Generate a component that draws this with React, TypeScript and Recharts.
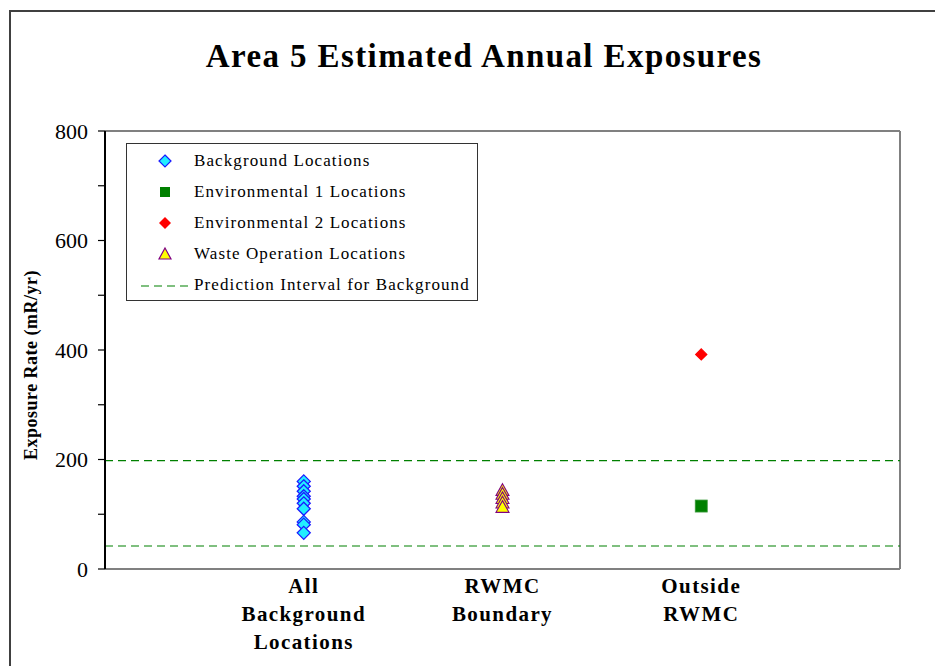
import { ScatterChart, Scatter, XAxis, YAxis, ReferenceLine } from 'recharts';

// categories along the x axis (multi-line labels)
const categories = [
  ['All', 'Background', 'Locations'],
  ['RWMC', 'Boundary'],
  ['Outside', 'RWMC'],
];

// exposure rates (mR/yr)
const backgroundValues = [160, 151, 142, 133, 128, 120, 110, 86, 81, 66];
const environmental1Values = [115];
const environmental2Values = [392];
const wasteValues = [144, 137, 129, 121, 113];
const predictionInterval = [42, 198];

const yTicks = [0, 100, 200, 300, 400, 500, 600, 700, 800];
const labeledTicks = [0, 200, 400, 600, 800];

const toPoints = (category: number, values: number[]) =>
  values.map((v) => ({ x: category + 1, y: v }));

const serif = '"Liberation Serif", "DejaVu Serif", serif';

const diamond = (fill: string, stroke: string, r: number) => (props: any) => {
  const { cx, cy } = props;
  return (
    <polygon
      points={`${cx},${cy - r} ${cx + r},${cy} ${cx},${cy + r} ${cx - r},${cy}`}
      fill={fill}
      stroke={stroke}
      strokeWidth={1.3}
    />
  );
};

const square = (fill: string, r: number) => (props: any) => {
  const { cx, cy } = props;
  return <rect x={cx - r} y={cy - r} width={r * 2} height={r * 2} fill={fill} stroke="#3a9a3a" strokeWidth={0.8} />;
};

const triangle = (fill: string, stroke: string, r: number) => (props: any) => {
  const { cx, cy } = props;
  return (
    <polygon
      points={`${cx},${cy - r} ${cx + r},${cy + r * 0.8} ${cx - r},${cy + r * 0.8}`}
      fill={fill}
      stroke={stroke}
      strokeWidth={1.1}
    />
  );
};

const CategoryTick = (props: any) => {
  const { x, y, payload } = props;
  const lines = categories[payload.value - 1] || [];
  return (
    <text
      x={x}
      y={y}
      textAnchor="middle"
      fontFamily={serif}
      fontWeight="bold"
      fontSize={21}
      letterSpacing={1.4}
      fill="#000"
    >
      {lines.map((line, i) => (
        <tspan key={i} x={x} dy={i === 0 ? 16 : 28}>
          {line}
        </tspan>
      ))}
    </text>
  );
};

const YLabel = () => (
  <text
    x={25}
    y={357}
    transform="rotate(-90 25 357)"
    textAnchor="middle"
    dominantBaseline="middle"
    fontFamily={serif}
    fontWeight="bold"
    fontSize={18}
    letterSpacing={0.5}
    fill="#000"
  >
    Exposure Rate (mR/yr)
  </text>
);

const legendItems = [
  { label: 'Background Locations', icon: 'bg' },
  { label: 'Environmental 1 Locations', icon: 'e1' },
  { label: 'Environmental 2 Locations', icon: 'e2' },
  { label: 'Waste Operation Locations', icon: 'wo' },
  { label: 'Prediction Interval for Background', icon: 'pi' },
];

const LegendIcon = ({ kind }: { kind: string }) => (
  <svg width={65} height={20} style={{ display: 'block' }}>
    {kind === 'bg' && <polygon points="38,4 44,10 38,16 32,10" fill="#22eeff" stroke="#1a1aff" strokeWidth={1.2} />}
    {kind === 'e1' && <rect x={33} y={5} width={10} height={10} fill="#008000" />}
    {kind === 'e2' && <polygon points="38,4 44,10 38,16 32,10" fill="#ff0000" />}
    {kind === 'wo' && <polygon points="38,4 44,15 32,15" fill="#ffff00" stroke="#800080" strokeWidth={1.2} />}
    {kind === 'pi' && <line x1={14} y1={11} x2={64} y2={11} stroke="#008000" strokeWidth={1.2} strokeDasharray="8 5" />}
  </svg>
);

export default function App() {
  return (
    <div style={{ position: 'relative', width: 935, height: 658, overflow: 'hidden', background: '#fff' }}>
      <div
        style={{
          position: 'absolute',
          left: 1,
          top: 2,
          width: 2000,
          height: 2000,
          borderTop: '2px solid #404040',
          borderLeft: '2px solid #404040',
        }}
      />
      <div
        style={{
          position: 'absolute',
          left: 0,
          top: 30,
          width: 952,
          textAlign: 'center',
          fontFamily: serif,
          fontWeight: 'bold',
          fontSize: 33,
          lineHeight: '36px',
          letterSpacing: 1.4,
          color: '#000',
        }}
      >
        Area 5 Estimated Annual Exposures
      </div>
      <div style={{ position: 'absolute', left: 0, top: 0 }}>
        <ScatterChart width={935} height={658} margin={{ top: 123, right: 43, bottom: 0, left: 0 }}>
          <XAxis
            type="number"
            dataKey="x"
            domain={[0, 4]}
            ticks={[1, 2, 3]}
            tick={<CategoryTick />}
            tickLine={false}
            axisLine={{ stroke: '#808080', strokeWidth: 2 }}
            height={97}
            interval={0}
          />
          <YAxis
            type="number"
            dataKey="y"
            domain={[0, 800]}
            ticks={yTicks}
            interval={0}
            tickFormatter={(v: number) => (labeledTicks.includes(v) ? String(v) : '')}
            tick={{ fill: '#000', fontSize: 22, fontFamily: serif }}
            tickSize={7}
            tickMargin={10}
            tickLine={{ stroke: '#000', strokeWidth: 1.2 }}
            axisLine={{ stroke: '#000', strokeWidth: 2 }}
            width={97}
            label={<YLabel />}
          />
          <ReferenceLine y={800} stroke="#808080" strokeWidth={2} />
          <ReferenceLine x={4} stroke="#808080" strokeWidth={2} />
          {predictionInterval.map((v) => (
            <ReferenceLine key={v} y={v} stroke="#008000" strokeWidth={1.2} strokeDasharray="8 5" />
          ))}
          <Scatter
            name="Background Locations"
            data={toPoints(0, backgroundValues)}
            shape={diamond('#22eeff', '#1a1aff', 6.5)}
            isAnimationActive={false}
          />
          <Scatter
            name="Environmental 1 Locations"
            data={toPoints(2, environmental1Values)}
            shape={square('#008000', 6)}
            isAnimationActive={false}
          />
          <Scatter
            name="Environmental 2 Locations"
            data={toPoints(2, environmental2Values)}
            shape={diamond('#ff0000', '#ff0000', 5.5)}
            isAnimationActive={false}
          />
          <Scatter
            name="Waste Operation Locations"
            data={toPoints(1, wasteValues)}
            shape={triangle('#ffff00', '#800080', 6.5)}
            isAnimationActive={false}
          />
        </ScatterChart>
      </div>
      <div
        style={{
          position: 'absolute',
          left: 118,
          top: 135,
          width: 352,
          height: 158,
          border: '1px solid #333',
          background: '#fff',
          fontFamily: serif,
          fontSize: 17,
          letterSpacing: 1.1,
          color: '#000',
          paddingTop: 1,
          boxSizing: 'border-box',
        }}
      >
        {legendItems.map((item) => (
          <div key={item.label} style={{ display: 'flex', alignItems: 'center', height: 31 }}>
            <LegendIcon kind={item.icon} />
            <span style={{ marginLeft: 2 }}>{item.label}</span>
          </div>
        ))}
      </div>
    </div>
  );
}
